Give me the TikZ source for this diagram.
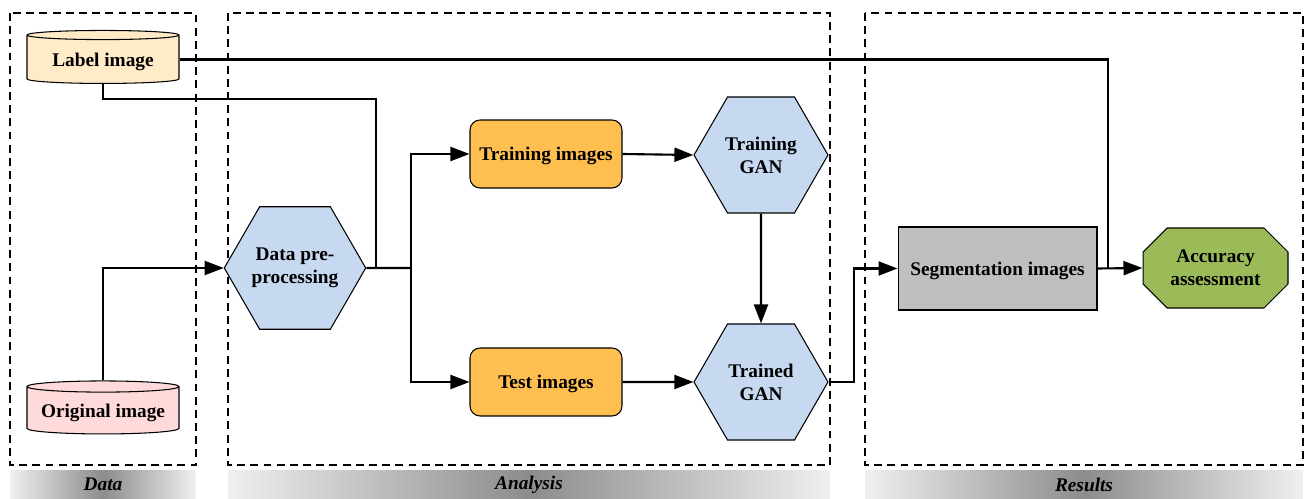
\documentclass[tikz,border=0pt]{standalone}
\usepackage{fontspec}
\setmainfont{Liberation Serif}
\usetikzlibrary{positioning, arrows.meta, shapes.geometric, shapes.misc}

\definecolor{labelfill}{HTML}{FFEBC8}
\definecolor{origfill}{HTML}{FFDADA}
\definecolor{hexblue}{HTML}{C6D9F0}
\definecolor{trainorange}{HTML}{FFBF50}
\definecolor{seggray}{HTML}{BFBFBF}
\definecolor{accgreen}{HTML}{9BBB59}

\tikzset{
  frame/.style={draw, dash pattern=on 4.5pt off 3pt, line width=0.6pt},
  conn/.style={line width=1.2pt},
  arr/.style={conn, -{Triangle[length=0.38cm, width=0.28cm]}},
  txt/.style={font=\fontsize{11}{13}\selectfont\bfseries, align=center},
  dbase/.style={txt, cylinder, shape border rotate=90, aspect=0.09, draw,
    line width=0.6pt, minimum width=3.04cm, minimum height=1.06cm, inner sep=0pt,
    text depth=0pt},
  procbox/.style={txt, rectangle, rounded corners=0.2cm, draw, line width=0.6pt,
    fill=trainorange, minimum width=3.04cm, minimum height=1.36cm, text depth=0pt},
  hexa/.style={txt, regular polygon, regular polygon sides=6, minimum size=2.68cm,
    inner sep=0pt, draw, line width=0.6pt, fill=hexblue},
  bandlabel/.style={font=\fontsize{11}{13}\selectfont\bfseries\itshape,
    left color=gray!12, right color=gray!12, middle color=gray!90,
    minimum height=0.58cm, inner sep=0pt}
}

\begin{document}
\begin{tikzpicture}[x=0.02cm, y=-0.02cm]
    \useasboundingbox (0,0) rectangle (1308,499);
    % Dashed frames
    \draw[frame] (10,13) rectangle (196,465);
    \draw[frame] (228,13) rectangle (830,465);
    \draw[frame] (865,13) rectangle (1303,465);
    % Shaded captions under the frames
    \node[bandlabel, minimum width=3.72cm] (datacap) at (103,484.5) {Data};
    \node[bandlabel, minimum width=12.04cm] (analysiscap) at (529,484.5) {Analysis};
    \node[bandlabel, minimum width=8.76cm] (resultscap) at (1084,484.5) {Results};
    % Data
    \node[dbase, fill=labelfill] (lblimg) at (103,59.5) {Label image};
    \node[dbase, fill=origfill] (origimg) at (103,410.5) {Original image};
    % Analysis
    \node[hexa] (prep) at (295,268) {Data pre-\\processing};
    \node[procbox] (trainimg) at (546,154) {Training images};
    \node[procbox] (testimg) at (546,382) {Test images};
    \node[hexa] (traingan) at (761,155) {Training\\GAN};
    \node[hexa] (trainedgan) at (761,382) {Trained\\GAN};
    % Results
    \node[txt, draw, line width=0.6pt, fill=seggray, minimum width=3.98cm,
      minimum height=1.66cm, text depth=0pt] (segimg) at (997.5,268.5)
      {Segmentation images};
    \node[txt, chamfered rectangle, chamfered rectangle xsep=0.24cm,
      chamfered rectangle ysep=0.24cm, draw, line width=0.6pt, fill=accgreen,
      minimum width=2.9cm, minimum height=1.6cm, inner sep=0pt] (accuracy)
      at (1215.5,268) {Accuracy\\assessment};
    % Junctions
    \coordinate (prepjoin) at (376,268);
    \coordinate (split) at (411,268);
    \coordinate (accjoin) at (1108,268);
    % Connectors
    \draw[conn] (lblimg.south) -- ++(0,15) -| (prepjoin);
    \draw[conn] (lblimg.east) -| (accjoin);
    \draw[arr] (origimg.north) |- (prep.west);
    \draw[conn] (prep.east) -- (split);
    \draw[arr] (split) |- (trainimg.west);
    \draw[arr] (split) |- (testimg.west);
    \draw[arr] (trainimg.east) -- (traingan.west);
    \draw[arr] (testimg.east) -- (trainedgan.west);
    \draw[arr] (traingan.south) -- (trainedgan.north);
    \draw[arr] (trainedgan.east) -- ++(25,0) |- (segimg.west);
    \draw[arr] (segimg.east) -- (accuracy.west);
\end{tikzpicture}
\end{document}
